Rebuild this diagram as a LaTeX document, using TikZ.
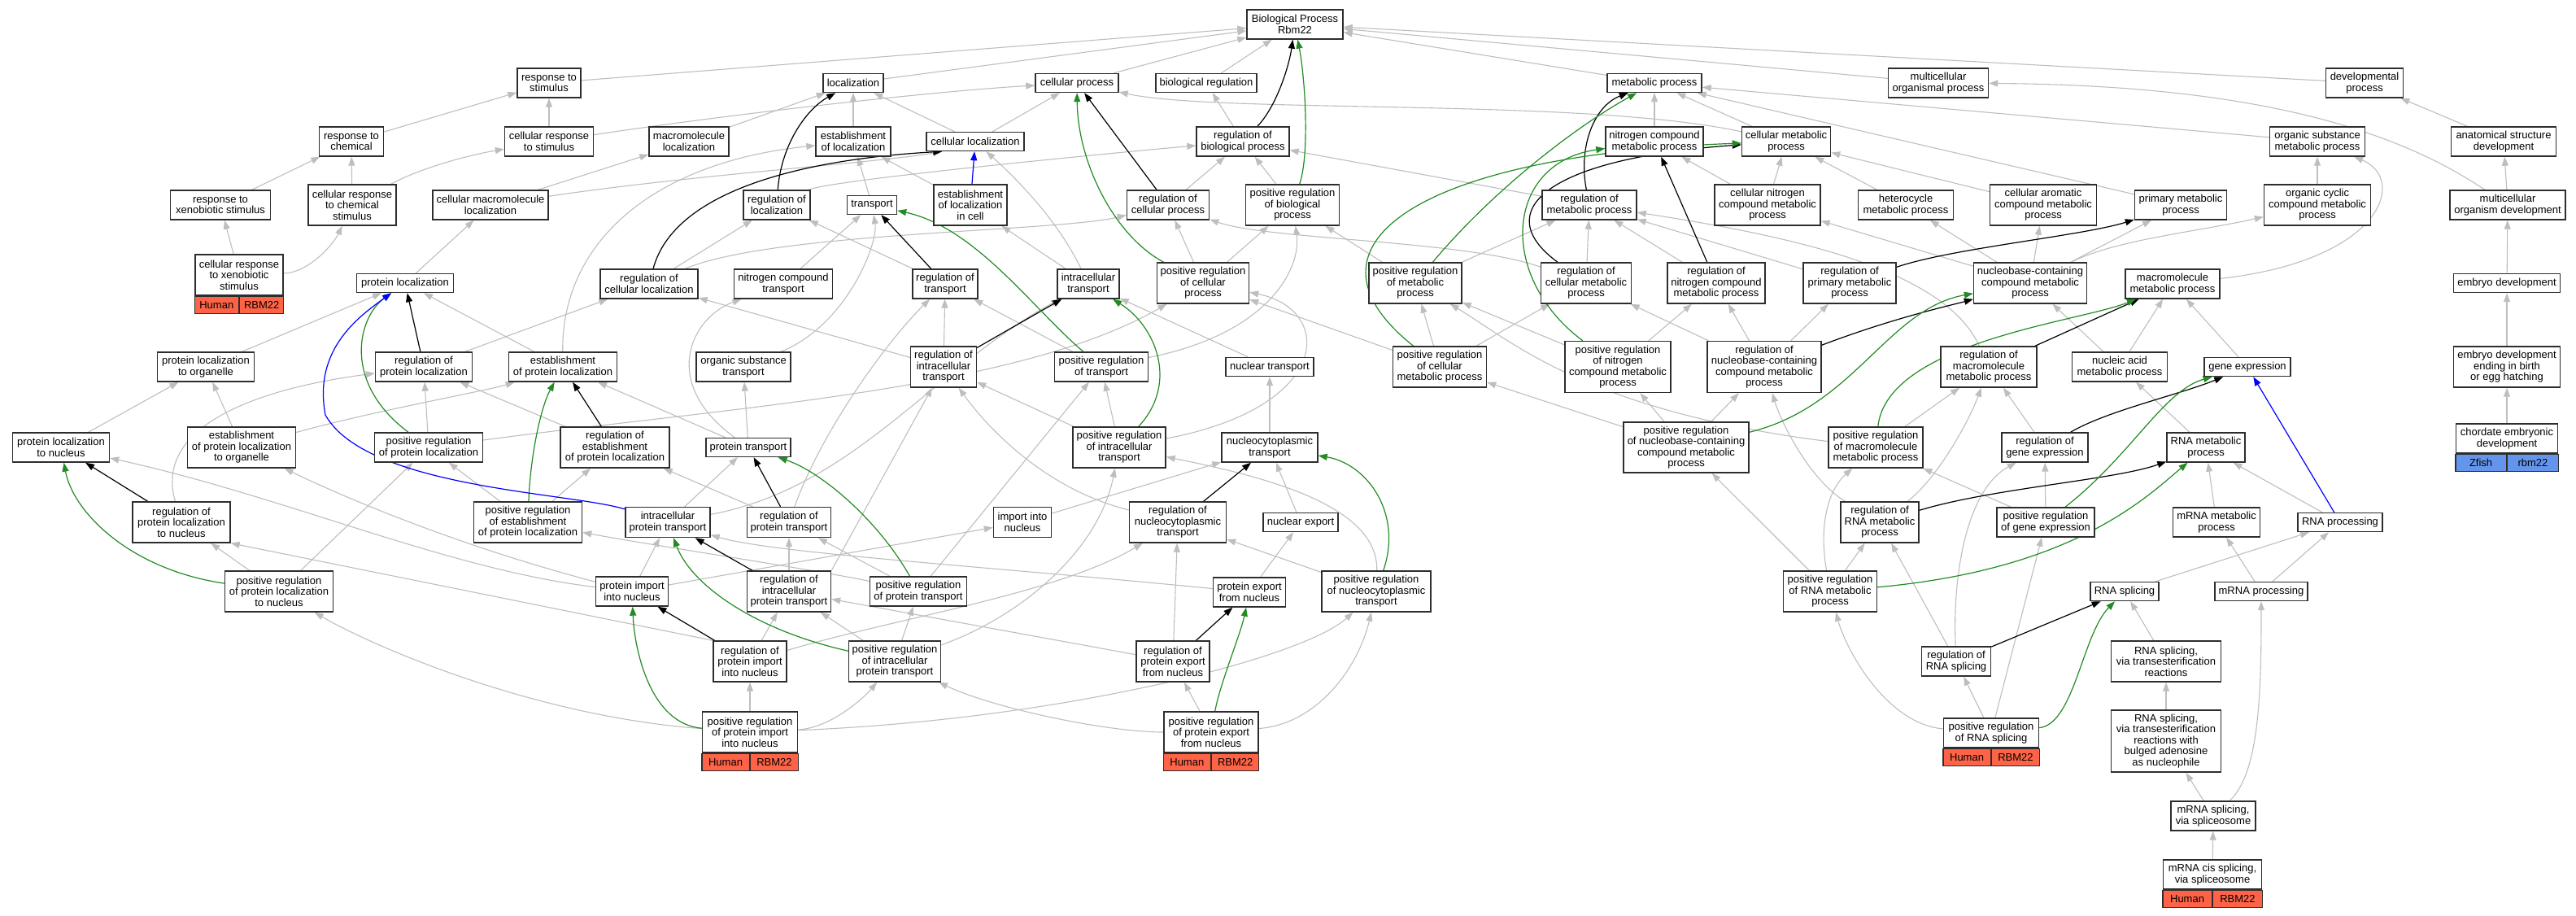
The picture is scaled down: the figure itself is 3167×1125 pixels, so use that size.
\documentclass[tikz,border=0pt]{standalone}
\usepackage{fontspec}
\setmainfont{Liberation Sans}
\usetikzlibrary{arrows.meta}
\definecolor{egray}{RGB}{190,190,190}
\definecolor{egreen}{RGB}{34,139,34}
\definecolor{eblue}{RGB}{0,0,255}
\definecolor{hum}{RGB}{255,99,71}
\definecolor{zfc}{RGB}{100,149,237}
\definecolor{bord}{RGB}{45,45,45}
\pgfdeclarelayer{edges}
\pgfsetlayers{edges,main}
\newcommand\GOn[6]{\node[gobox,minimum width=#4bp,minimum height=#5bp] (#1) at (#2,#3) {#6};}
\newcommand\GOb[5]{%
  \node[#3,minimum width=#2bp,anchor=north east] (#1L) at (#1.south) {#4};
  \node[#3,minimum width=#2bp,anchor=north west] (#1R) at (#1.south) {#5};}
\newcommand\EG[2]{\draw[ge] (#1) -- (#2);}
\newcommand\EK[2]{\draw[gk] (#1) -- (#2);}
\newcommand\EU[2]{\draw[gu] (#1) -- (#2);}
\begin{document}
\begin{tikzpicture}[x=1bp,y=-1bp,
  gobox/.style={draw=bord,line width=1.4bp,fill=white,align=center,inner xsep=2bp,inner ysep=0bp,font=\fontsize{13bp}{13.5bp}\selectfont},
  hbar/.style={gobox,fill=hum,minimum height=21bp},
  zbar/.style={gobox,fill=zfc,minimum height=21bp},
  ge/.style={draw=egray,line width=1.1bp,-{Triangle[length=11bp,width=8bp]}},
  gk/.style={draw=black,line width=1.2bp,-{Triangle[length=11bp,width=8bp]}},
  gg/.style={draw=egreen,line width=1.2bp,-{Triangle[length=11bp,width=8bp]}},
  gu/.style={draw=eblue,line width=1.2bp,-{Triangle[length=11bp,width=8bp]}}]
\useasboundingbox (0,0) rectangle (3167,1125);
% ---------------- nodes
\GOn{bp}{1592}{30}{118}{36}{Biological Process\\Rbm22}
\GOn{respstim}{675}{102}{78}{36}{response to\\stimulus}
\GOn{loc}{1049}{102}{74}{23}{localization}
\GOn{cellproc}{1324}{102}{102}{23}{cellular process}
\GOn{bioreg}{1483}{102}{124}{23}{biological regulation}
\GOn{metab}{2034}{102}{116}{23}{metabolic process}
\GOn{multiorg}{2383}{102}{123}{36}{multicellular\\organismal process}
\GOn{devproc}{2907}{102}{95}{36}{developmental\\process}
\GOn{respchem}{432}{174}{79}{36}{response to\\chemical}
\GOn{cellrespstim}{675}{174}{109}{36}{cellular response\\to stimulus}
\GOn{macroloc}{847}{174}{98}{36}{macromolecule\\localization}
\GOn{establoc}{1049}{174}{92}{36}{establishment\\of localization}
\GOn{cellloc}{1199}{174}{120}{23}{cellular localization}
\GOn{regbio}{1528}{174}{114}{36}{regulation of\\biological process}
\GOn{nitrometab}{2034}{174}{120}{36}{nitrogen compound\\metabolic process}
\GOn{cellmetab}{2196}{174}{109}{36}{cellular metabolic\\process}
\GOn{orgsubmetab}{2849}{174}{117}{36}{organic substance\\metabolic process}
\GOn{anat}{3078}{174}{129}{36}{anatomical structure\\development}
\GOn{respxeno}{271}{252}{123}{36}{response to\\xenobiotic stimulus}
\GOn{cellrespchem}{433}{252}{108}{50}{cellular response\\to chemical\\stimulus}
\GOn{cellmacroloc}{603}{252}{142}{36}{cellular macromolecule\\localization}
\GOn{regloc}{955}{252}{82}{36}{regulation of\\localization}
\GOn{transport}{1072}{252}{61}{23}{transport}
\GOn{establoccell}{1193}{252}{90}{50}{establishment\\of localization\\in cell}
\GOn{regcellproc}{1436}{252}{101}{36}{regulation of\\cellular process}
\GOn{posregbio}{1589}{252}{115}{50}{positive regulation\\of biological\\process}
\GOn{regmetab}{1954}{252}{116}{36}{regulation of\\metabolic process}
\GOn{cellnitro}{2173}{252}{130}{50}{cellular nitrogen\\compound metabolic\\process}
\GOn{hetero}{2343}{252}{117}{36}{heterocycle\\metabolic process}
\GOn{cellarom}{2512}{252}{131}{50}{cellular aromatic\\compound metabolic\\process}
\GOn{primmetab}{2681}{252}{113}{36}{primary metabolic\\process}
\GOn{orgcyc}{2849}{252}{131}{50}{organic cyclic\\compound metabolic\\process}
\GOn{multidev}{3083}{252}{142}{36}{multicellular\\organism development}
\GOn{cellrespxeno}{294}{338}{108}{50}{cellular response\\to xenobiotic\\stimulus}
\GOb{cellrespxeno}{54}{hbar}{Human}{RBM22}
\GOn{protloc}{498}{348}{119}{23}{protein localization}
\GOn{regcellloc}{798}{349}{120}{36}{regulation of\\cellular localization}
\GOn{nitrotransport}{963}{349}{121}{36}{nitrogen compound\\transport}
\GOn{regtransport}{1162}{349}{80}{36}{regulation of\\transport}
\GOn{intratransport}{1338}{349}{76}{36}{intracellular\\transport}
\GOn{posregcellproc}{1479}{348}{113}{50}{positive regulation\\of cellular\\process}
\GOn{posregmetab}{1740}{348}{114}{50}{positive regulation\\of metabolic\\process}
\GOn{regcellmetab}{1950}{348}{111}{50}{regulation of\\cellular metabolic\\process}
\GOn{regnitrometab}{2110}{348}{120}{50}{regulation of\\nitrogen compound\\metabolic process}
\GOn{regprimmetab}{2274}{348}{114}{50}{regulation of\\primary metabolic\\process}
\GOn{nucleobase}{2496}{348}{139}{50}{nucleobase-containing\\compound metabolic\\process}
\GOn{macrometab}{2671}{349}{116}{36}{macromolecule\\metabolic process}
\GOn{embryodev}{3082}{348}{131}{23}{embryo development}
\GOn{protlocorg}{253}{451}{119}{36}{protein localization\\to organelle}
\GOn{regprotloc}{521}{451}{119}{36}{regulation of\\protein localization}
\GOn{estabprotloc}{692}{451}{133}{36}{establishment\\of protein localization}
\GOn{orgsubtransport}{914}{451}{116}{36}{organic substance\\transport}
\GOn{regintratransport}{1160}{451}{81}{50}{regulation of\\intracellular\\transport}
\GOn{posregtransport}{1354}{451}{115}{36}{positive regulation\\of transport}
\GOn{nucleartransport}{1561}{451}{108}{23}{nuclear transport}
\GOn{posregcellmetab}{1770}{451}{115}{50}{positive regulation\\of cellular\\metabolic process}
\GOn{posregnitrometab}{1989}{451}{130}{63}{positive regulation\\of nitrogen\\compound metabolic\\process}
\GOn{regnucleobase}{2169}{451}{140}{63}{regulation of\\nucleobase-containing\\compound metabolic\\process}
\GOn{regmacro}{2445}{451}{118}{50}{regulation of\\macromolecule\\metabolic process}
\GOn{nucleic}{2606}{451}{117}{36}{nucleic acid\\metabolic process}
\GOn{geneexpr}{2763}{451}{106}{23}{gene expression}
\GOn{embryobirth}{3082}{451}{131}{50}{embryo development\\ending in birth\\or egg hatching}
\GOn{protlocnuc}{75}{550}{119}{36}{protein localization\\to nucleus}
\GOn{estabprotlocorg}{297}{550}{133}{50}{establishment\\of protein localization\\to organelle}
\GOn{posregprotloc}{527}{550}{133}{36}{positive regulation\\of protein localization}
\GOn{regestabprotloc}{756}{550}{134}{50}{regulation of\\establishment\\of protein localization}
\GOn{prottransport}{920}{550}{104}{23}{protein transport}
\GOn{posregintratransport}{1376}{550}{114}{50}{positive regulation\\of intracellular\\transport}
\GOn{nucleocyto}{1561}{550}{118}{36}{nucleocytoplasmic\\transport}
\GOn{posregnucleobase}{2073}{550}{154}{62}{positive regulation\\of nucleobase-containing\\compound metabolic\\process}
\GOn{posregmacro}{2306}{550}{116}{50}{positive regulation\\of macromolecule\\metabolic process}
\GOn{reggene}{2514}{550}{106}{36}{regulation of\\gene expression}
\GOn{rnametab}{2712}{550}{96}{36}{RNA metabolic\\process}
\GOn{chordate}{3082}{539}{125}{36}{chordate embryonic\\development}
\GOb{chordate}{62.5}{zbar}{Zfish}{rbm22}
\GOn{regprotlocnuc}{223}{642}{120}{50}{regulation of\\protein localization\\to nucleus}
\GOn{posregestab}{649}{642}{133}{50}{positive regulation\\of establishment\\of protein localization}
\GOn{intraprottransport}{821}{642}{104}{37}{intracellular\\protein transport}
\GOn{regprottransport}{970}{642}{103}{37}{regulation of\\protein transport}
\GOn{importnuc}{1257}{642}{71}{37}{import into\\nucleus}
\GOn{regnucleocyto}{1448}{642}{119}{50}{regulation of\\nucleocytoplasmic\\transport}
\GOn{nuclearexport}{1599}{642}{92}{23}{nuclear export}
\GOn{regrnametab}{2311}{642}{96}{50}{regulation of\\RNA metabolic\\process}
\GOn{posreggene}{2515}{642}{120}{36}{positive regulation\\of gene expression}
\GOn{mrnametab}{2725}{642}{107}{36}{mRNA metabolic\\process}
\GOn{rnaproc}{2877}{642}{104}{23}{RNA processing}
\GOn{posregprotlocnuc}{343}{727}{133}{50}{positive regulation\\of protein localization\\to nucleus}
\GOn{protimport}{777}{727}{89}{36}{protein import\\into nucleus}
\GOn{regintraprottransport}{970}{727}{103}{50}{regulation of\\intracellular\\protein transport}
\GOn{posregprottransport}{1129}{727}{119}{36}{positive regulation\\of protein transport}
\GOn{protexport}{1536}{728}{89}{36}{protein export\\from nucleus}
\GOn{posregnucleocyto}{1692}{727}{134}{50}{positive regulation\\of nucleocytoplasmic\\transport}
\GOn{posregrnametab}{2250}{727}{115}{50}{positive regulation\\of RNA metabolic\\process}
\GOn{rnasplicing}{2612}{727}{84}{23}{RNA splicing}
\GOn{mrnaproc}{2780}{727}{114}{23}{mRNA processing}
\GOn{regprotimport}{922}{813}{90}{50}{regulation of\\protein import\\into nucleus}
\GOn{posregintraprottransport}{1100}{813}{113}{50}{positive regulation\\of intracellular\\protein transport}
\GOn{regprotexport}{1442}{813}{90}{50}{regulation of\\protein export\\from nucleus}
\GOn{regrnasplicing}{2405}{813}{85}{36}{regulation of\\RNA splicing}
\GOn{rnasplicetrans}{2663}{813}{135}{50}{RNA splicing,\\via transesterification\\reactions}
\GOn{posregprotimport}{922}{900}{117}{50}{positive regulation\\of protein import\\into nucleus}
\GOb{posregprotimport}{58.5}{hbar}{Human}{RBM22}
\GOn{posregprotexport}{1489}{900}{116}{50}{positive regulation\\of protein export\\from nucleus}
\GOb{posregprotexport}{58}{hbar}{Human}{RBM22}
\GOn{posregrnasplicing}{2448}{901}{117}{36}{positive regulation\\of RNA splicing}
\GOb{posregrnasplicing}{58.5}{hbar}{Human}{RBM22}
\GOn{rnasplicebulged}{2663}{911}{135}{76}{RNA splicing,\\via transesterification\\reactions with\\bulged adenosine\\as nucleophile}
\GOn{mrnasplice}{2721}{1003}{104}{36}{mRNA splicing,\\via spliceosome}
\GOn{mrnacis}{2720}{1075}{121}{36}{mRNA cis splicing,\\via spliceosome}
\GOb{mrnacis}{60.5}{hbar}{Human}{RBM22}
% ---------------- edges
\begin{pgfonlayer}{edges}
% gray straight
\EG{respstim}{bp}
\EG{loc}{bp}
\EG{cellproc}{bp}
\EG{bioreg}{bp}
\EG{metab}{bp}
\EG{multiorg}{bp}
\EG{devproc}{bp}
\EG{respchem}{respstim}
\EG{cellrespstim}{respstim}
\EG{macroloc}{loc}
\EG{establoc}{loc}
\EG{cellloc}{loc}
\EG{cellloc}{cellproc}
\EG{regbio}{bioreg}
\EG{regcellproc}{regbio}
\EG{posregbio}{regbio}
\EG{respxeno}{respchem}
\EG{cellrespchem}{respchem}
\EG{cellmacroloc}{macroloc}
\EG{transport}{establoc}
\EG{establoccell}{establoc}
\EG{cellrespxeno}{respxeno}
\EG{protloc}{cellmacroloc}
\EG{regcellloc}{regloc}
\EG{nitrotransport}{transport}
\EG{regtransport}{regloc}
\EG{intratransport}{establoccell}
\EG{posregcellproc}{regcellproc}
\EG{posregcellproc}{posregbio}
\EG{nitrometab}{metab}
\EG{cellmetab}{metab}
\EG{orgsubmetab}{metab}
\EG{primmetab}{metab}
\EG{regmetab}{regbio}
\EG{cellnitro}{nitrometab}
\EG{cellnitro}{cellmetab}
\EG{hetero}{cellmetab}
\EG{cellarom}{cellmetab}
\EG{posregmetab}{posregbio}
\EG{posregmetab}{regmetab}
\EG{regcellmetab}{regmetab}
\EG{regnitrometab}{regmetab}
\EG{regprimmetab}{regmetab}
\EG{anat}{devproc}
\EG{multidev}{anat}
\EG{orgcyc}{orgsubmetab}
\EG{embryodev}{multidev}
\EG{nucleobase}{hetero}
\EG{nucleobase}{cellarom}
\EG{nucleobase}{primmetab}
\EG{nucleobase}{cellnitro}
\EG{protlocorg}{protloc}
\EG{estabprotloc}{protloc}
\EG{regprotloc}{regcellloc}
\EG{regintratransport}{regtransport}
\EG{regintratransport}{regcellloc}
\EG{posregtransport}{regtransport}
\EG{nucleartransport}{intratransport}
\EG{posregcellmetab}{posregcellproc}
\EG{posregcellmetab}{posregmetab}
\EG{posregcellmetab}{regcellmetab}
\EG{posregnitrometab}{posregmetab}
\EG{posregnitrometab}{regnitrometab}
\EG{regnucleobase}{regcellmetab}
\EG{regnucleobase}{regnitrometab}
\EG{regnucleobase}{regprimmetab}
\EG{nucleic}{nucleobase}
\EG{nucleic}{macrometab}
\EG{geneexpr}{macrometab}
\EG{embryobirth}{embryodev}
\EG{protlocnuc}{protlocorg}
\EG{estabprotlocorg}{protlocorg}
\EG{posregprotloc}{regprotloc}
\EG{regestabprotloc}{regprotloc}
\EG{prottransport}{orgsubtransport}
\EG{prottransport}{estabprotloc}
\EG{posregintratransport}{regintratransport}
\EG{posregintratransport}{posregtransport}
\EG{nucleocyto}{nucleartransport}
\EG{posregnucleobase}{regnucleobase}
\EG{posregnucleobase}{posregnitrometab}
\EG{posregnucleobase}{posregcellmetab}
\EG{posregmacro}{regmacro}
\EG{reggene}{regmacro}
\EG{rnametab}{nucleic}
\EG{chordate}{embryobirth}
\EG{posregestab}{posregprotloc}
\EG{posregestab}{regestabprotloc}
\EG{intraprottransport}{prottransport}
\EG{regprottransport}{regestabprotloc}
\EG{importnuc}{nucleocyto}
\EG{nuclearexport}{nucleocyto}
\EG{posreggene}{reggene}
\EG{posreggene}{posregmacro}
\EG{mrnametab}{rnametab}
\EG{rnaproc}{rnametab}
\EG{posregprotlocnuc}{posregprotloc}
\EG{posregprotlocnuc}{regprotlocnuc}
\EG{protimport}{intraprottransport}
\EG{protimport}{importnuc}
\EG{regintraprottransport}{regprottransport}
\draw[ge] (regintraprottransport.north east) -- (regintratransport);
\EG{posregprottransport}{regprottransport}
\EG{posregprottransport}{posregtransport}
\EG{protexport}{nuclearexport}
\EG{posregnucleocyto}{regnucleocyto}
\EG{posregrnametab}{posregnucleobase}
\EG{posregrnametab}{regrnametab}
\EG{rnasplicing}{rnaproc}
\EG{mrnaproc}{mrnametab}
\EG{mrnaproc}{rnaproc}
\draw[ge] (regprotimport.north west) -- (regprotlocnuc.south east);
\EG{regprotimport}{regintraprottransport}
\EG{posregintraprottransport}{regintraprottransport}
\EG{posregintraprottransport}{posregprottransport}
\EG{regprotexport}{regnucleocyto}
\EG{regprotexport}{regintraprottransport}
\EG{regrnasplicing}{regrnametab}
\EG{rnasplicetrans}{rnasplicing}
\EG{posregprotimport}{regprotimport}
\EG{posregprotexport}{regprotexport}
\EG{posregrnasplicing}{regrnasplicing}
\EG{posregrnasplicing}{posreggene}
\EG{rnasplicebulged}{rnasplicetrans}
\EG{mrnasplice}{rnasplicebulged}
\EG{mrnacis}{mrnasplice}
% gray curves
\draw[ge] (cellrespstim) .. controls (900,140) and (1150,112) .. (cellproc);
\draw[ge] (cellrespchem) .. controls (520,205) and (580,190) .. (cellrespstim);
\draw[ge] (cellmacroloc) .. controls (850,215) and (1080,200) .. ([xshift=20bp]cellloc.south west);
\draw[ge] (regloc) .. controls (1020,221) and (1400,185) .. (regbio);
\draw[ge] (cellrespxeno) .. controls (380,335) and (410,300) .. (cellrespchem);
\draw[ge] (regcellloc) .. controls (950,285) and (1300,285) .. (regcellproc);
\draw[ge] (intratransport) .. controls (1300,270) and (1250,220) .. (cellloc);
\draw[ge] (cellmetab) .. controls (1950,120) and (1500,140) .. (cellproc);
\draw[ge] (regcellmetab) .. controls (1800,295) and (1560,295) .. (regcellproc);
\draw[ge] (multidev) .. controls (2960,170) and (2800,105) .. (multiorg);
\draw[ge] (nucleobase) .. controls (2600,295) and (2700,285) .. (orgcyc);
\draw[ge] (macrometab) .. controls (2930,320) and (2960,220) .. (orgsubmetab);
\draw[ge] (estabprotloc) .. controls (690,300) and (800,200) .. (establoc);
\draw[ge] (orgsubtransport) .. controls (1040,400) and (1080,300) .. (transport);
\draw[ge] (posregtransport) .. controls (1560,410) and (1600,330) .. (posregbio);
\draw[ge] (regmacro) .. controls (2390,330) and (2200,290) .. (regmetab);
\draw[ge] (estabprotlocorg) .. controls (460,505) and (600,480) .. (estabprotloc);
\draw[ge] (posregprotloc) .. controls (900,500) and (1250,480) .. (posregcellproc);
\draw[ge] (prottransport) .. controls (810,470) and (850,390) .. (nitrotransport);
\draw[ge] (posregintratransport) .. controls (1640,500) and (1640,380) .. (posregcellproc);
\draw[ge] (posregmacro) .. controls (1950,505) and (1860,420) .. (posregmetab);
\draw[ge] (regprotlocnuc) .. controls (190,530) and (300,480) .. (regprotloc);
\draw[ge] (intraprottransport) .. controls (1050,600) and (1150,450) .. (intratransport);
\draw[ge] (regnucleocyto) .. controls (1280,600) and (1210,520) .. (regintratransport);
\draw[ge] (regrnametab) .. controls (2225,590) and (2190,520) .. (regnucleobase);
\draw[ge] (regrnametab) .. controls (2380,590) and (2420,520) .. (regmacro);
\draw[ge] (posregrnametab) .. controls (2235,640) and (2250,600) .. (posregmacro);
\draw[ge] (protimport) .. controls (550,700) and (350,610) .. (protlocnuc);
\draw[ge] (protimport) .. controls (560,670) and (420,610) .. (estabprotlocorg);
\draw[ge] (posregprottransport) .. controls (1000,700) and (800,670) .. (posregestab);
\draw[ge] (protexport) .. controls (1200,695) and (950,680) .. (intraprottransport);
\draw[ge] (posregnucleocyto) .. controls (1695,620) and (1550,585) .. (posregintratransport);
\draw[ge] (regprotimport) .. controls (1100,760) and (1300,730) .. (regnucleocyto);
\draw[ge] (posregprotimport) .. controls (650,880) and (450,790) .. (posregprotlocnuc);
\draw[ge] (posregprotimport) .. controls (1020,895) and (1060,860) .. (posregintraprottransport);
\draw[ge] (posregprotimport) .. controls (1300,885) and (1600,810) .. (posregnucleocyto);
\draw[ge] (posregprotexport) .. controls (1620,890) and (1670,820) .. (posregnucleocyto);
\draw[ge] (posregprotexport) .. controls (1360,900) and (1220,870) .. (posregintraprottransport);
\draw[ge] (regrnasplicing) .. controls (2400,700) and (2420,600) .. (reggene);
\draw[ge] (posregrnasplicing) .. controls (2320,890) and (2270,800) .. (posregrnametab);
\draw[ge] (mrnasplice) .. controls (2778,950) and (2780,850) .. (mrnaproc);
\draw[ge] (regprottransport) .. controls (1010,530) and (1090,420) .. (regtransport);
\draw[ge] (posregintraprottransport) .. controls (1250,760) and (1350,680) .. (posregintratransport);
% black
\draw[gk] (regbio) .. controls (1570,130) and (1585,80) .. (bp);
\draw[gk] (regloc) .. controls (960,180) and (990,135) .. (loc);
\EK{regcellproc}{cellproc}
\draw[gk] (regcellloc) .. controls (830,230) and (1000,195) .. ([xshift=20bp]cellloc.south west);
\EK{regtransport}{transport}
\EK{regintratransport}{intratransport}
\draw[gk] (regmetab) .. controls (1940,180) and (1960,130) .. (metab);
\draw[gk] (regcellmetab) .. controls (1830,260) and (1900,195) .. (cellmetab);
\EK{regnitrometab}{nitrometab}
\draw[gk] (regprimmetab) .. controls (2400,305) and (2560,290) .. (primmetab);
\draw[gk] (regnucleobase) .. controls (2330,390) and (2400,375) .. (nucleobase);
\EK{regmacro}{macrometab}
\EK{regprotloc}{protloc}
\EK{regestabprotloc}{estabprotloc}
\EK{regprottransport}{prottransport}
\EK{regnucleocyto}{nucleocyto}
\EK{regprotlocnuc}{protlocnuc}
\EK{regintraprottransport}{intraprottransport}
\EK{regprotimport}{protimport}
\EK{regprotexport}{protexport}
\draw[gk] (reggene) .. controls (2590,505) and (2680,485) .. (geneexpr);
\draw[gk] (regrnametab) .. controls (2450,600) and (2600,590) .. (rnametab);
\EK{regrnasplicing}{rnasplicing}
% green
\draw[gg] (posregbio) .. controls (1610,190) and (1605,100) .. (bp);
\draw[gg] (posregcellproc) .. controls (1370,290) and (1325,200) .. (cellproc);
\draw[gg] (posregtransport) .. controls (1270,380) and (1200,280) .. (transport);
\draw[gg] (posregintratransport) .. controls (1450,470) and (1420,400) .. (intratransport);
\draw[gg] (posregmetab) .. controls (1830,240) and (1930,160) .. (metab);
\draw[gg] (posregcellmetab) .. controls (1580,300) and (1750,190) .. (cellmetab);
\draw[gg] (posregnitrometab) .. controls (1840,340) and (1850,200) .. (nitrometab);
\draw[gg] (posregnucleobase) .. controls (2280,500) and (2320,380) .. (nucleobase);
\draw[gg] (posregmacro) .. controls (2320,420) and (2560,395) .. (macrometab);
\draw[gg] (posregprotloc) .. controls (420,470) and (440,390) .. (protloc);
\draw[gg] (posregestab) .. controls (652,560) and (665,500) .. (estabprotloc);
\draw[gg] (posregprottransport) .. controls (1080,640) and (1010,580) .. (prottransport);
\draw[gg] (posregnucleocyto) .. controls (1725,630) and (1680,570) .. (nucleocyto);
\draw[gg] (posregprotlocnuc) .. controls (160,700) and (90,630) .. (protlocnuc);
\draw[gg] (posregintraprottransport) .. controls (930,775) and (850,720) .. (intraprottransport);
\draw[gg] (posregprotimport) .. controls (800,890) and (780,800) .. (protimport);
\draw[gg] (posregprotexport) .. controls (1500,840) and (1525,780) .. (protexport);
\draw[gg] (posreggene) .. controls (2620,560) and (2660,480) .. (geneexpr);
\draw[gg] (posregrnametab) .. controls (2550,700) and (2640,610) .. (rnametab);
\draw[gg] (posregrnasplicing) .. controls (2550,890) and (2560,780) .. (rnasplicing);
% blue
\EU{establoccell}{cellloc}
\draw[gu] (intraprottransport) .. controls (700,605) and (450,600) .. (400,510) .. controls (385,430) and (440,390) .. (protloc);
\EU{rnaproc}{geneexpr}
\end{pgfonlayer}
\end{tikzpicture}
\end{document}
